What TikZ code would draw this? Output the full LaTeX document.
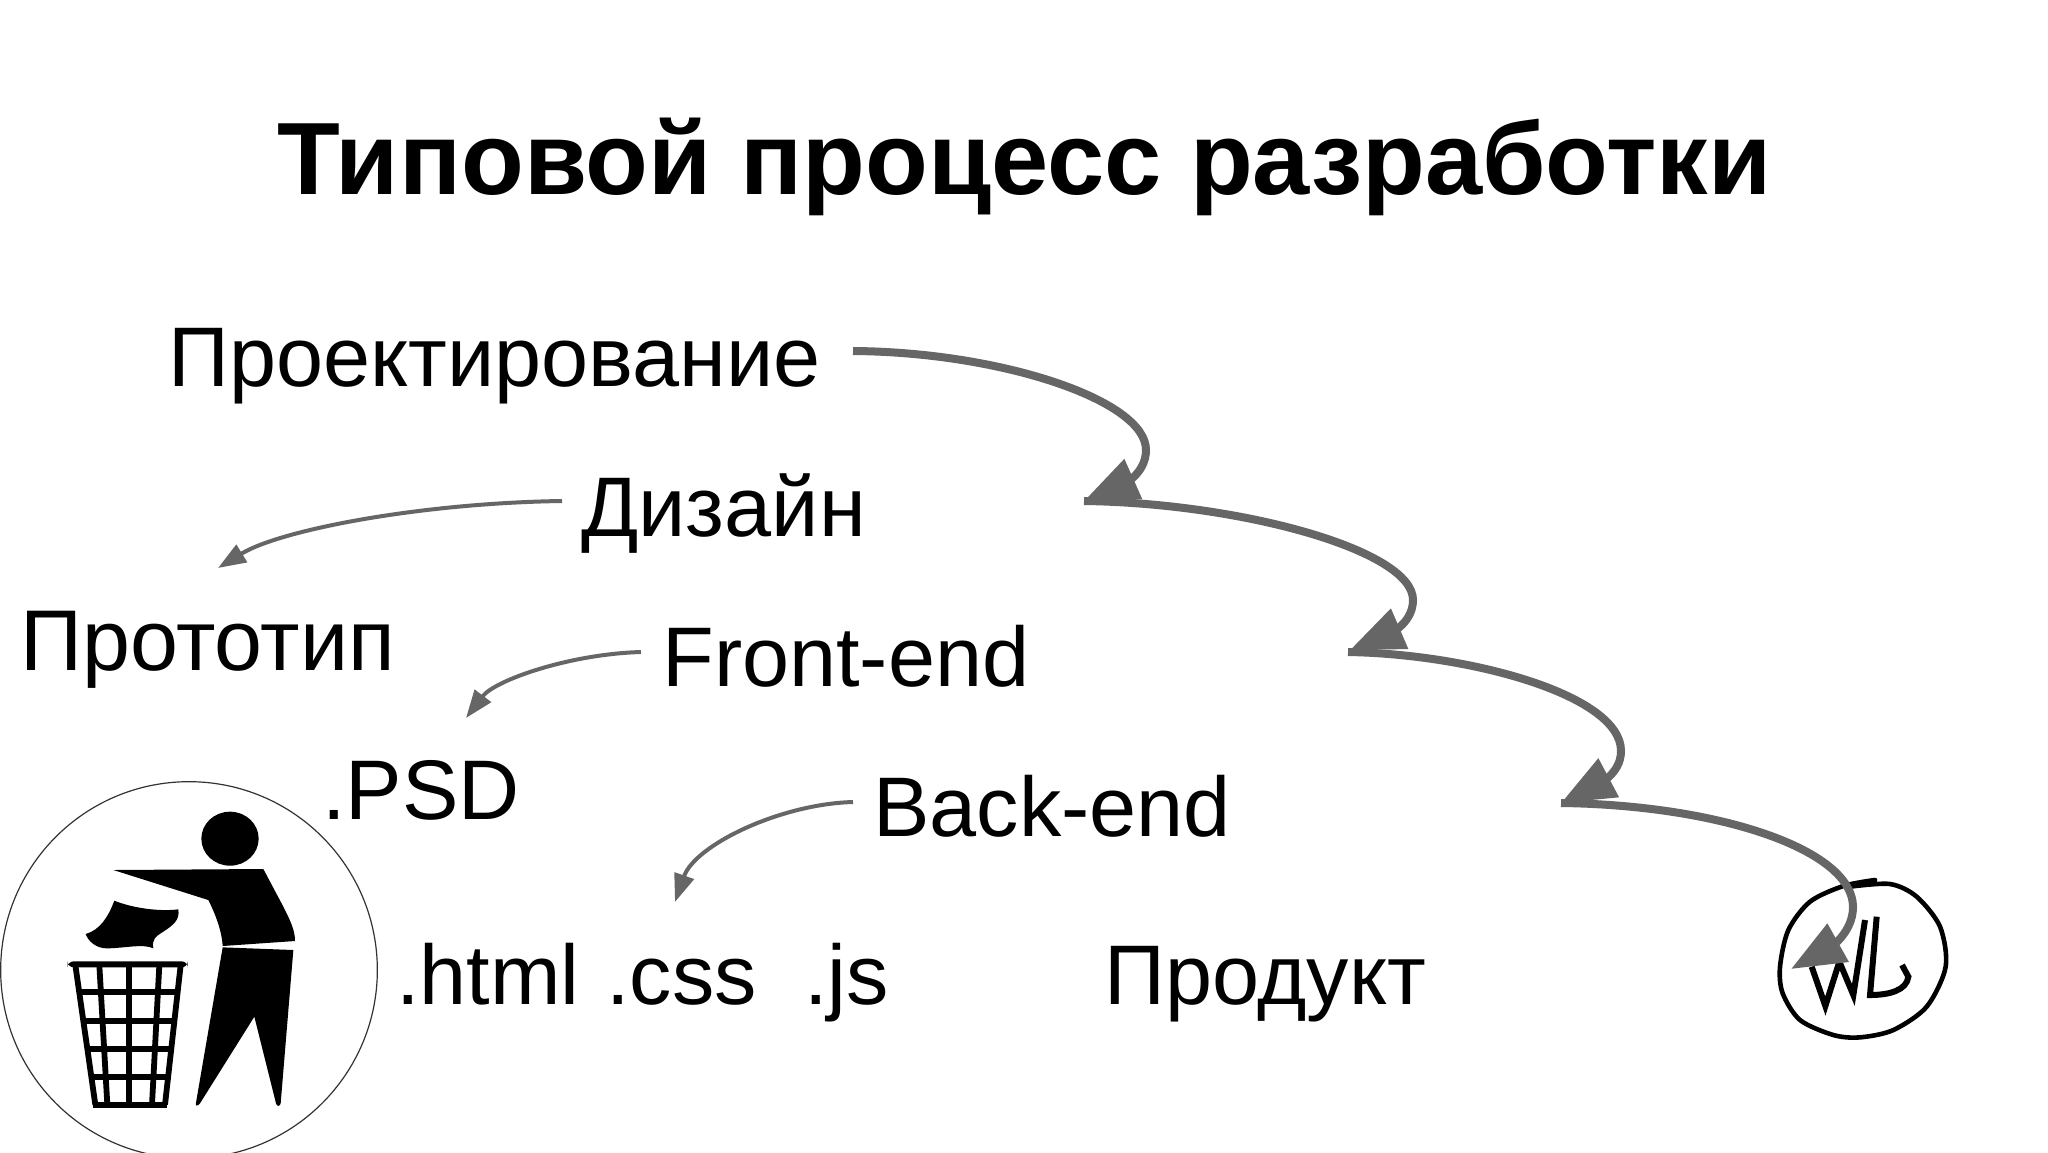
\documentclass[tikz,border=0pt]{standalone}
\usepackage{fontspec}
\setmainfont{Liberation Sans}
\usetikzlibrary{arrows.meta}
\definecolor{arrowgray}{HTML}{666666}
\tikzset{
  titletext/.style={anchor=base,inner sep=0pt,font=\fontsize{51.4}{60}\selectfont\bfseries},
  bodytext/.style={anchor=base west,inner sep=0pt,font=\fontsize{42.3}{50}\selectfont},
  widebody/.style={anchor=base west,inner sep=0pt,font=\fontsize{43.1}{50}\selectfont},
  thickarrow/.style={draw=arrowgray,line width=4pt,-{Triangle[length=27pt,width=21pt,fill=arrowgray]}},
  thinarrow/.style={draw=arrowgray,line width=2pt,-{Triangle[length=14pt,width=10pt,fill=arrowgray]}},
  gridline/.style={line width=2.9pt,black},
  pen/.style={line width=2.3pt,black,line join=round,line cap=round},
  wlpen/.style={line width=3pt,black,line join=miter,line cap=butt}
}
\begin{document}
\begin{tikzpicture}[x=0.5pt,y=-0.5pt]
\useasboundingbox (0,0) rectangle (2048,1152);
\fill[white] (0,0) rectangle (2048,1152);
% texts
\node[titletext] (title) at (1024,194) {Типовой процесс разработки};
\node[bodytext] (proj) at (168,386) {Проектирование};
\node[bodytext] (design) at (581,536) {Дизайн};
\node[widebody] (proto) at (20,670) {Прототип};
\node[bodytext] (front) at (662,686) {Front-end};
\node[bodytext] (psd) at (322,819) {.PSD};
\node[bodytext] (back) at (873,836) {Back-end};
\node[bodytext] (html) at (396,1004) {.html};
\node[bodytext] (css) at (606,1004) {.css};
\node[bodytext] (js) at (804,1004) {.js};
\node[bodytext] (prod) at (1104,1004) {Продукт};
% trash sign
\begin{scope}[shift={(0,760)},x=0.16667pt,y=-0.16667pt]
  \draw[line width=0.6pt,black!80] (567,630) circle[radius=565*0.16667pt];
  \fill[black] (690,236) ellipse[x radius=86*0.16667pt,y radius=81*0.16667pt];
  \fill[black] (340,330) -- (790,327) -- (850,440) .. controls (870,480) and (885,510) .. (885,543)
     -- (668,558) .. controls (665,505) and (640,450) .. (625,420) -- cycle;
  \fill[black] (668,562) -- (880,570) -- (842,1030) .. controls (840,1040) and (830,1040) .. (828,1030)
     -- (763,770) -- (600,1030) .. controls (592,1040) and (585,1038) .. (588,1028) -- cycle;
  \fill[black] (343,422) .. controls (400,445) and (480,455) .. (535,448)
     .. controls (540,480) and (520,495) .. (490,515) .. controls (465,530) and (455,540) .. (460,565)
     .. controls (430,550) and (370,565) .. (320,565) .. controls (290,565) and (265,545) .. (257,522)
     .. controls (300,510) and (325,470) .. (343,422) -- cycle;
  \fill[black,rounded corners=3pt] (203,604) rectangle (563,622);
  \draw[gridline] (226,615) -- (286,1034);
  \draw[gridline] (542,615) -- (495,1034);
  \draw[gridline] (298,615) -- (322,1034);
  \draw[gridline] (387,615) -- (387,1034);
  \draw[gridline] (478,615) -- (456,1034);
  \draw[gridline] (232,695) -- (532,695);
  \draw[gridline] (245,782) -- (525,782);
  \draw[gridline] (258,867) -- (515,867);
  \draw[gridline] (270,950) -- (505,950);
  \draw[gridline] (278,1034) -- (502,1034);
\end{scope}
% WL logo
\begin{scope}[shift={(1700,780)},x=0.16667pt,y=-0.16667pt]
  \draw[pen] plot[smooth] coordinates {(525,300) (430,318) (330,365) (265,450) (240,560) (248,640) (300,720) (400,765) (480,772) (580,750) (680,680) (737,560) (720,440) (650,350) (570,312) (450,320)};
  \draw[wlpen] (335,560) -- (376,678) -- (418,545) -- (460,645) -- (495,420);
  \draw[wlpen] (530,410) -- (510,645) .. controls (570,645) and (620,630) .. (625,590) -- (606,555);
\end{scope}
% connector ends
\coordinate (a1s) at (853,351); \coordinate (a1x) at (1146,450); \coordinate (a1e) at (1084,501);
\coordinate (a2x) at (1413,600); \coordinate (a2e) at (1350,650);
\coordinate (a3s) at (1348,652); \coordinate (a3x) at (1621,751); \coordinate (a3e) at (1561,803);
\coordinate (a4x) at (1853,907); \coordinate (a4e) at (1791,969);
\coordinate (b1s) at (562,501); \coordinate (b1e) at (218,568);
\coordinate (b2s) at (641,652); \coordinate (b2e) at (466,718);
\coordinate (b3s) at (853,802); \coordinate (b3e) at (675,902);
% thick connectors
\draw[thickarrow] (a1s) .. controls (1000,352) and (1146,400) .. (a1x) .. controls (1146,475) and (1120,485) .. (a1e);
\draw[thickarrow] (a1e) .. controls (1240,503) and (1413,550) .. (a2x) .. controls (1413,625) and (1385,635) .. (a2e);
\draw[thickarrow] (a3s) .. controls (1470,654) and (1621,695) .. (a3x) .. controls (1621,775) and (1595,785) .. (a3e);
\draw[thickarrow] (a3e) .. controls (1720,805) and (1853,850) .. (a4x) .. controls (1853,935) and (1825,950) .. (a4e);
% thin connectors
\draw[thinarrow] (b1s) .. controls (420,503) and (280,530) .. (b1e);
\draw[thinarrow] (b2s) .. controls (570,654) and (495,680) .. (b2e);
\draw[thinarrow] (b3s) .. controls (780,804) and (695,845) .. (b3e);
\end{tikzpicture}
\end{document}
